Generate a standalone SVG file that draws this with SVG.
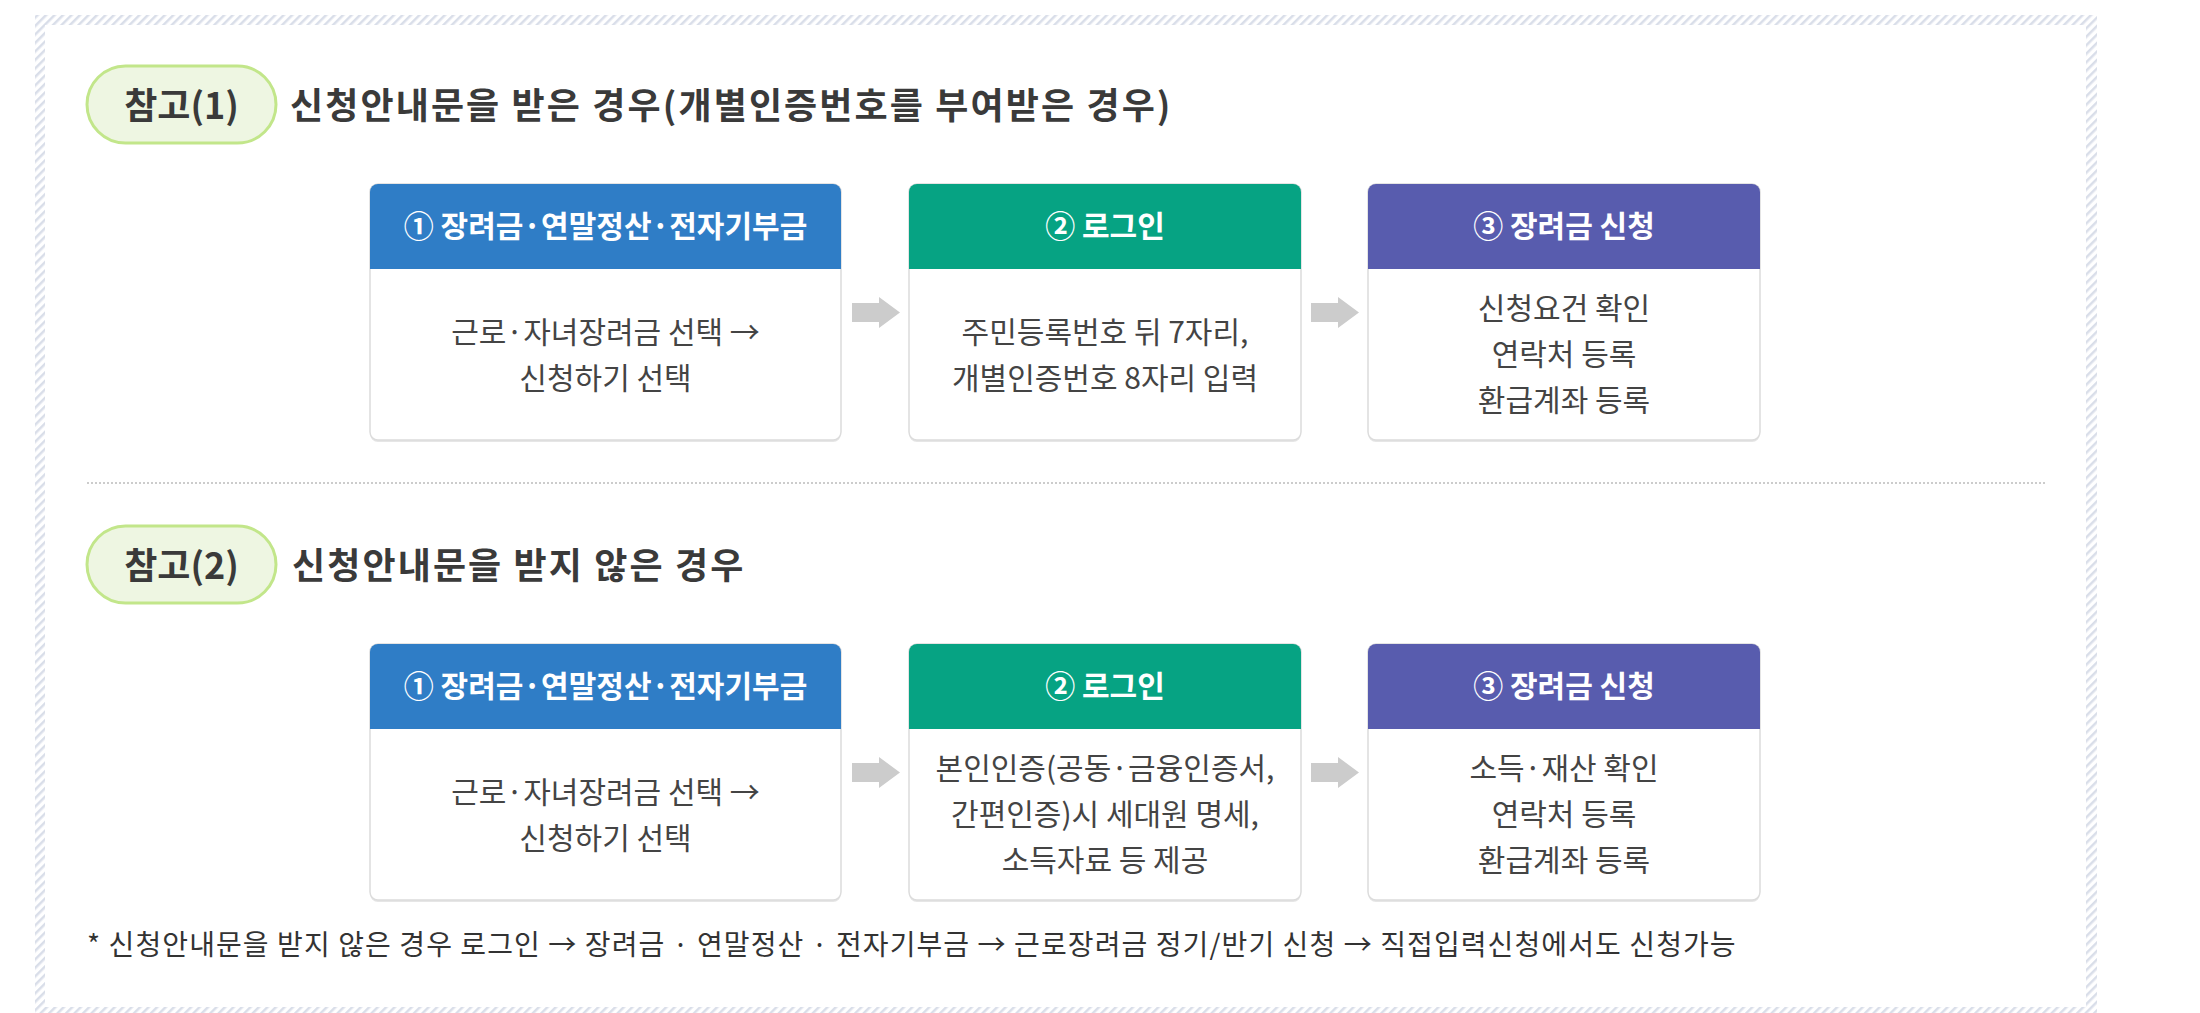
<svg xmlns="http://www.w3.org/2000/svg" width="2200" height="1013" viewBox="0 0 2200 1013">
<style>
text{font-family:"Noto Sans CJK KR","Noto Sans",sans-serif}
.title{font-size:36px;font-weight:700;fill:#3a3a3a;letter-spacing:2.1px}
.pilltext{font-size:36px;font-weight:700;fill:#3a3a3a;text-anchor:middle}
.pill{fill:#eef6e2;stroke:#c2e68a;stroke-width:3}
.box{fill:#ffffff;stroke:#dcdcdc;stroke-width:1.5}
.shadow{fill:#e6e6e6}
.hd{font-size:30px;font-weight:700;fill:#ffffff;text-anchor:middle}
.bd{font-size:30px;fill:#444444;text-anchor:middle}
.blue{fill:#2f7dc6}
.green{fill:#06a383}
.purple{fill:#585cae}
.arrow{fill:#cccccc}
.note{font-size:28px;fill:#333333;letter-spacing:1.1px}
</style>
<defs>
<pattern id="hatch" patternUnits="userSpaceOnUse" width="6" height="6" patternTransform="rotate(45)">
<rect x="0" y="0" width="6" height="6" fill="#ffffff"/>
<rect x="0" y="0" width="2.5" height="6" fill="#d9dee9"/>
</pattern>
</defs>
<rect x="0" y="0" width="2200" height="1013" fill="#ffffff"/>
<g id="frame">
<rect x="35" y="15" width="2062" height="1010" fill="url(#hatch)"/>
<rect x="45" y="25" width="2041" height="982" fill="#ffffff"/>
</g>
<g id="section1">
<g id="pill1"><rect class="pill" x="87" y="66" width="189" height="77" rx="38.5"/><text class="pilltext" x="181.5" y="119">참고(1)</text></g>
<text id="title1" class="title" x="290" y="119">신청안내문을 받은 경우(개별인증번호를 부여받은 경우)</text>
</g>
<line id="separator" x1="87" y1="483" x2="2046" y2="483" stroke="#cccccc" stroke-width="2" stroke-dasharray="2 2"/>
<g id="section2">
<g id="pill2"><rect class="pill" x="87" y="526" width="189" height="77" rx="38.5"/><text class="pilltext" x="181.5" y="579">참고(2)</text></g>
<text id="title2" class="title" x="292" y="579">신청안내문을 받지 않은 경우</text>
</g>

<g id="s1-step1">
<rect class="shadow" x="370" y="186" width="471" height="256" rx="8"/>
<rect class="box" x="370" y="184" width="471" height="256" rx="8"/>
<path class="blue" d="M370 192 A8 8 0 0 1 378 184 H833 A8 8 0 0 1 841 192 V269 H370 Z"/>
<text class="hd" x="605.5" y="237">① 장려금·연말정산·전자기부금</text>
<text class="bd" x="605.5" y="343">근로·자녀장려금 선택 →</text>
<text class="bd" x="605.5" y="389">신청하기 선택</text>
</g>
<g id="s1-step2">
<rect class="shadow" x="909" y="186" width="392" height="256" rx="8"/>
<rect class="box" x="909" y="184" width="392" height="256" rx="8"/>
<path class="green" d="M909 192 A8 8 0 0 1 917 184 H1293 A8 8 0 0 1 1301 192 V269 H909 Z"/>
<text class="hd" x="1105" y="237">② 로그인</text>
<text class="bd" x="1105" y="343">주민등록번호 뒤 7자리,</text>
<text class="bd" x="1105" y="389">개별인증번호 8자리 입력</text>
</g>
<g id="s1-step3">
<rect class="shadow" x="1368" y="186" width="392" height="256" rx="8"/>
<rect class="box" x="1368" y="184" width="392" height="256" rx="8"/>
<path class="purple" d="M1368 192 A8 8 0 0 1 1376 184 H1752 A8 8 0 0 1 1760 192 V269 H1368 Z"/>
<text class="hd" x="1564" y="237">③ 장려금 신청</text>
<text class="bd" x="1564" y="319">신청요건 확인</text>
<text class="bd" x="1564" y="365">연락처 등록</text>
<text class="bd" x="1564" y="411">환급계좌 등록</text>
</g>

<g id="s2-step1">
<rect class="shadow" x="370" y="646" width="471" height="256" rx="8"/>
<rect class="box" x="370" y="644" width="471" height="256" rx="8"/>
<path class="blue" d="M370 652 A8 8 0 0 1 378 644 H833 A8 8 0 0 1 841 652 V729 H370 Z"/>
<text class="hd" x="605.5" y="697">① 장려금·연말정산·전자기부금</text>
<text class="bd" x="605.5" y="803">근로·자녀장려금 선택 →</text>
<text class="bd" x="605.5" y="849">신청하기 선택</text>
</g>
<g id="s2-step2">
<rect class="shadow" x="909" y="646" width="392" height="256" rx="8"/>
<rect class="box" x="909" y="644" width="392" height="256" rx="8"/>
<path class="green" d="M909 652 A8 8 0 0 1 917 644 H1293 A8 8 0 0 1 1301 652 V729 H909 Z"/>
<text class="hd" x="1105" y="697">② 로그인</text>
<text class="bd" x="1105" y="779">본인인증(공동·금융인증서,</text>
<text class="bd" x="1105" y="825">간편인증)시 세대원 명세,</text>
<text class="bd" x="1105" y="871">소득자료 등 제공</text>
</g>
<g id="s2-step3">
<rect class="shadow" x="1368" y="646" width="392" height="256" rx="8"/>
<rect class="box" x="1368" y="644" width="392" height="256" rx="8"/>
<path class="purple" d="M1368 652 A8 8 0 0 1 1376 644 H1752 A8 8 0 0 1 1760 652 V729 H1368 Z"/>
<text class="hd" x="1564" y="697">③ 장려금 신청</text>
<text class="bd" x="1564" y="779">소득·재산 확인</text>
<text class="bd" x="1564" y="825">연락처 등록</text>
<text class="bd" x="1564" y="871">환급계좌 등록</text>
</g>

<g id="connectors">
<path class="arrow" d="M852 303 H879 V297 L900 312.5 L879 328 V322 H852 Z"/>
<path class="arrow" d="M1311 303 H1338 V297 L1359 312.5 L1338 328 V322 H1311 Z"/>
<path class="arrow" d="M852 763 H879 V757 L900 772.5 L879 788 V782 H852 Z"/>
<path class="arrow" d="M1311 763 H1338 V757 L1359 772.5 L1338 788 V782 H1311 Z"/>
</g>

<text id="footnote" class="note" x="87" y="955">* 신청안내문을 받지 않은 경우 로그인 → 장려금 · 연말정산 · 전자기부금 → 근로장려금 정기/반기 신청 → 직접입력신청에서도 신청가능</text>
</svg>
